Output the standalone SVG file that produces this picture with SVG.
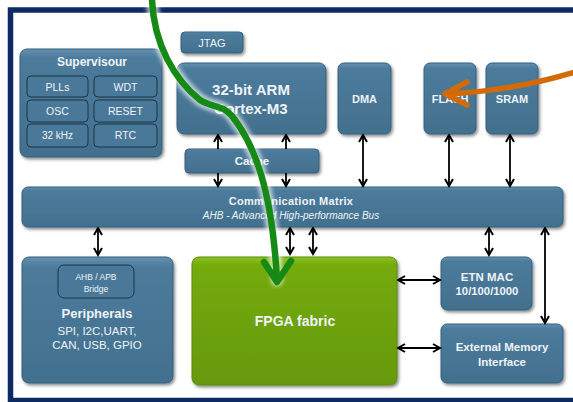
<svg xmlns="http://www.w3.org/2000/svg" width="573" height="402" viewBox="0 0 573 402">
<defs>
  <linearGradient id="gBlue" x1="0" y1="0" x2="0" y2="1">
    <stop offset="0" stop-color="#6590b0"/>
    <stop offset="0.08" stop-color="#4c7b9c"/>
    <stop offset="1" stop-color="#42708e"/>
  </linearGradient>
  <linearGradient id="gGreen" x1="0" y1="0" x2="0" y2="1">
    <stop offset="0" stop-color="#8cc322"/>
    <stop offset="0.06" stop-color="#74ab0c"/>
    <stop offset="1" stop-color="#66990a"/>
  </linearGradient>
  <filter id="shadow" x="-10%" y="-10%" width="125%" height="130%">
    <feDropShadow dx="1.5" dy="2" stdDeviation="1.5" flood-color="#000" flood-opacity="0.45"/>
  </filter>
  <filter id="soft" x="-20%" y="-20%" width="140%" height="140%">
    <feGaussianBlur stdDeviation="2"/>
  </filter>
  <marker id="ah2" viewBox="0 0 10 10" refX="8.5" refY="5" markerWidth="10" markerHeight="10" orient="auto-start-reverse" markerUnits="userSpaceOnUse">
    <path d="M1.5,1 L8.5,5 L1.5,9" fill="none" stroke="#000" stroke-width="2" stroke-linejoin="miter"/>
  </marker>
</defs>
<style>
  .box { fill: url(#gBlue); stroke: #35607e; stroke-width: 1; filter: url(#shadow); }
  .sub { fill: #4a7898; stroke: #1d3547; stroke-width: 1; }
  .fpga { fill: url(#gGreen); stroke: #5a8a08; stroke-width: 1; filter: url(#shadow); }
  text { font-family: "Liberation Sans", Arial, sans-serif; fill: #eef3f7; text-anchor: middle; }
  .b { font-weight: bold; }
  .it { font-style: italic; }
  .conn line { stroke: #000; stroke-width: 1.8; marker-end: url(#ah2); }
  .conn line.d { marker-start: url(#ah2); }
</style>
<rect x="0" y="0" width="573" height="402" fill="#fff"/>
<rect x="10.5" y="10" width="600" height="390.5" fill="#fff" stroke="#0d2a63" stroke-width="5.5"/>

<g id="supervisour">
  <rect class="box" x="20" y="49" width="142" height="108" rx="7"/>
  <text class="b" x="92" y="66" font-size="12">Supervisour</text>
  <rect class="sub" x="27" y="76" width="61" height="21" rx="4"/>
  <text x="57.5" y="90.5" font-size="10.5">PLLs</text>
  <rect class="sub" x="94" y="76" width="63" height="21" rx="4"/>
  <text x="125.5" y="90.5" font-size="10.5">WDT</text>
  <rect class="sub" x="27" y="100" width="61" height="22" rx="4"/>
  <text x="57.5" y="114.5" font-size="10.5">OSC</text>
  <rect class="sub" x="94" y="100" width="63" height="22" rx="4"/>
  <text x="125.5" y="114.5" font-size="10.5">RESET</text>
  <rect class="sub" x="27" y="124" width="61" height="23" rx="4"/>
  <text x="57.5" y="139" font-size="10">32 kHz</text>
  <rect class="sub" x="94" y="124" width="63" height="23" rx="4"/>
  <text x="125.5" y="139" font-size="10.5">RTC</text>
</g>

<g id="jtag">
  <rect class="box" x="181" y="32" width="62" height="21" rx="4"/>
  <text x="212" y="46.5" font-size="11">JTAG</text>
</g>

<g id="arm">
  <rect class="box" x="177" y="63" width="149" height="71" rx="7"/>
  <text class="b" x="251" y="95" font-size="15">32-bit ARM</text>
  <text class="b" x="251" y="114" font-size="15">Cortex-M3</text>
</g>

<g id="dma">
  <rect class="box" x="338" y="63" width="53" height="71" rx="6"/>
  <text class="b" x="364.5" y="103" font-size="11">DMA</text>
</g>

<g id="flash">
  <rect class="box" x="424" y="63" width="52" height="71" rx="6"/>
  <text class="b" x="450" y="103" font-size="11">FLASH</text>
</g>

<g id="sram">
  <rect class="box" x="486" y="63" width="52" height="71" rx="6"/>
  <text class="b" x="512" y="103" font-size="11">SRAM</text>
</g>

<g id="cache">
  <rect class="box" x="185" y="149" width="134" height="24" rx="4"/>
  <text class="b" x="252" y="165" font-size="11.5">Cache</text>
</g>

<g id="matrix">
  <rect class="box" x="22" y="187" width="541" height="40" rx="6"/>
  <text class="b" x="291" y="205" font-size="11" letter-spacing="0.3">Communication  Matrix</text>
  <text class="it" x="291" y="218.5" font-size="10">AHB - Advanced  High-performance  Bus</text>
</g>

<g id="peripherals">
  <rect class="box" x="22" y="257" width="151" height="126" rx="7"/>
  <rect class="sub" x="58" y="265" width="76" height="33" rx="6"/>
  <text x="96" y="280" font-size="8.5">AHB / APB</text>
  <text x="96" y="291.5" font-size="8.5">Bridge</text>
  <text class="b" x="97" y="317.5" font-size="13">Peripherals</text>
  <text x="97" y="335" font-size="11.5">SPI, I2C,UART,</text>
  <text x="97" y="348.5" font-size="11.5">CAN, USB, GPIO</text>
</g>

<g id="fpga">
  <rect class="fpga" x="192" y="257" width="205" height="128" rx="7"/>
  <text class="b" x="295" y="326" font-size="14">FPGA fabric</text>
</g>

<g id="etnmac">
  <rect class="box" x="441" y="257" width="91" height="53" rx="6"/>
  <text class="b" x="487" y="281" font-size="11.5">ETN MAC</text>
  <text class="b" x="487" y="294.5" font-size="11.3">10/100/1000</text>
</g>

<g id="extmem">
  <rect class="box" x="441" y="324" width="122" height="59" rx="6"/>
  <text class="b" x="502" y="351" font-size="11.5">External Memory</text>
  <text class="b" x="502" y="366" font-size="11.5">Interface</text>
</g>

<g id="connectors" class="conn">
  <line x1="218" y1="149" x2="218" y2="135"/>
  <line x1="286" y1="149" x2="286" y2="135"/>
  <line x1="218" y1="173" x2="218" y2="186"/>
  <line x1="286" y1="173" x2="286" y2="186"/>
  <line class="d" x1="363" y1="135" x2="363" y2="186"/>
  <line class="d" x1="449" y1="135" x2="449" y2="186"/>
  <line class="d" x1="510" y1="135" x2="510" y2="186"/>
  <line class="d" x1="98" y1="228" x2="98" y2="255"/>
  <line class="d" x1="290" y1="228" x2="290" y2="254"/>
  <line class="d" x1="313" y1="228" x2="313" y2="254"/>
  <line class="d" x1="489" y1="228" x2="489" y2="255"/>
  <line class="d" x1="545" y1="228" x2="545" y2="323"/>
  <line class="d" x1="398" y1="280" x2="440" y2="280"/>
  <line class="d" x1="398" y1="348" x2="440" y2="348"/>
</g>

<g id="green-arrow" fill="none" stroke-linecap="round" stroke-linejoin="round">
  <path d="M152,0 C154,45 175,80 200,100 C212,108 222,104 232,116 C255,145 272,190 277,280" stroke="#fff" stroke-width="12" opacity="0.7" filter="url(#soft)"/>
  <path d="M152,0 C154,45 175,80 200,100 C212,108 222,104 232,116 C255,145 272,190 277,280" stroke="#168a14" stroke-width="6.5"/>
  <polyline points="264,262 277,282 291,261" stroke="#168a14" stroke-width="6.5"/>
</g>

<g id="orange-arrow" fill="none" stroke-linecap="round" stroke-linejoin="round">
  <path d="M575,72 C535,84 495,92 446,94" stroke="#d46a06" stroke-width="5.5"/>
  <polyline points="467,82 445,94 467,105" stroke="#d46a06" stroke-width="5.5"/>
</g>
</svg>
